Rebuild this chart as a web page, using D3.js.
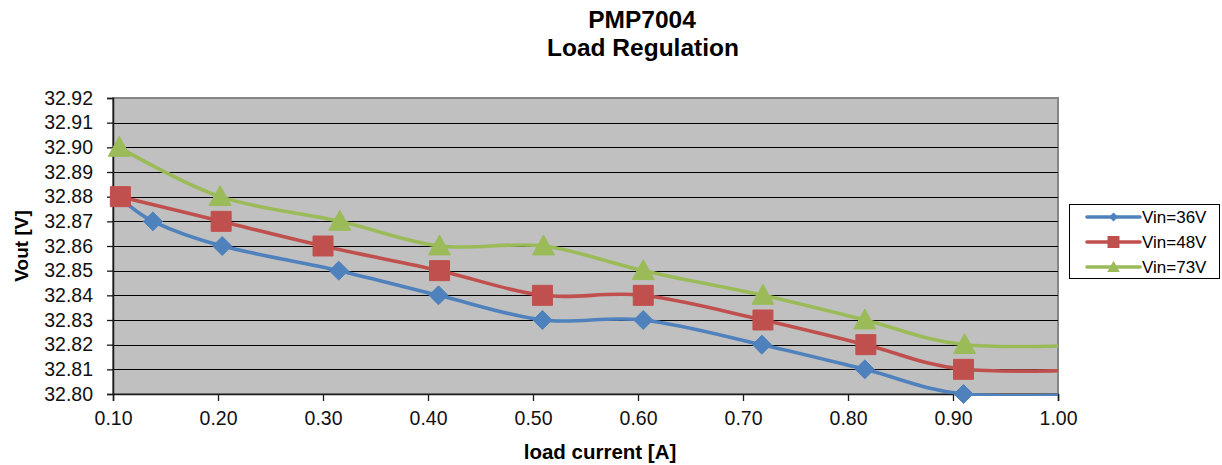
<!DOCTYPE html>
<html>
<head>
<meta charset="utf-8">
<script src="https://cdn.jsdelivr.net/npm/d3@7"></script>
<style>
  html, body { margin: 0; padding: 0; background: #fff; }
  svg { display: block; font-family: Arial, "Liberation Sans", sans-serif; }
</style>
</head>
<body>
<svg id="chart" width="1222" height="465"></svg>
<script>
// Load regulation measurements: output voltage vs. load current for three input voltages
const seriesNames = ["Vin=36V", "Vin=48V", "Vin=73V"];
const loadCurrent36 = [0.106, 0.138, 0.204, 0.315, 0.410, 0.509, 0.605, 0.718, 0.816, 0.910, 1.05];
const vout36        = [32.88, 32.87, 32.86, 32.85, 32.84, 32.83, 32.83, 32.82, 32.81, 32.80, 32.80];
const loadCurrent48 = [0.107, 0.203, 0.300, 0.411, 0.509, 0.605, 0.719, 0.817, 0.910, 1.05];
const vout48        = [32.88, 32.87, 32.86, 32.85, 32.84, 32.84, 32.83, 32.82, 32.81, 32.81];
const loadCurrent73 = [0.106, 0.202, 0.316, 0.411, 0.510, 0.605, 0.719, 0.816, 0.911, 1.05];
const vout73        = [32.90, 32.88, 32.87, 32.86, 32.86, 32.85, 32.84, 32.83, 32.82, 32.82];
const xTicks = [0.10, 0.20, 0.30, 0.40, 0.50, 0.60, 0.70, 0.80, 0.90, 1.00];
const yTicks = [32.80, 32.81, 32.82, 32.83, 32.84, 32.85, 32.86, 32.87, 32.88, 32.89, 32.90, 32.91, 32.92];
const colors = ["#4F81BD", "#C0504D", "#9BBB59"];
const markers = ["diamond", "square", "triangle"];

const series = [
  { name: seriesNames[0], xs: loadCurrent36, ys: vout36, color: colors[0], marker: markers[0] },
  { name: seriesNames[1], xs: loadCurrent48, ys: vout48, color: colors[1], marker: markers[1] },
  { name: seriesNames[2], xs: loadCurrent73, ys: vout73, color: colors[2], marker: markers[2] }
];

const svg = d3.select("#chart");
const plot = { left: 113, right: 1058, top: 98, bottom: 394 };

const x = d3.scaleLinear().domain([0.10, 1.00]).range([plot.left, plot.right]);
const y = d3.scaleLinear().domain([32.80, 32.92]).range([plot.bottom, plot.top]);

// Title
const title = svg.append("text")
  .attr("x", 642).attr("text-anchor", "middle")
  .style("font-weight", "bold").style("font-size", "24.5px").attr("fill", "#000");
title.append("tspan").attr("x", 642).attr("y", 28).text("PMP7004");
title.append("tspan").attr("x", 643).attr("y", 56).text("Load Regulation");

// Plot background
svg.append("rect")
  .attr("x", plot.left).attr("y", plot.top)
  .attr("width", plot.right - plot.left).attr("height", plot.bottom - plot.top)
  .attr("fill", "#C0C0C0").attr("stroke", "#868686").attr("stroke-width", 2);

// Horizontal gridlines
svg.append("g").selectAll("line")
  .data(yTicks.filter(v => v > 32.80 && v < 32.92))
  .join("line")
  .attr("x1", plot.left).attr("x2", plot.right)
  .attr("y1", d => Math.round(y(d)) + 0.5).attr("y2", d => Math.round(y(d)) + 0.5)
  .attr("stroke", "#000").attr("stroke-width", 1.2);

// Axes
const yAxis = d3.axisLeft(y).tickValues(yTicks).tickFormat(d3.format(".2f")).tickSize(6).tickPadding(14);
const xAxis = d3.axisBottom(x).tickValues(xTicks).tickFormat(d3.format(".2f")).tickSize(7).tickPadding(10);

const gy = svg.append("g").attr("transform", `translate(${plot.left},0)`).call(yAxis);
const gx = svg.append("g").attr("transform", `translate(0,${plot.bottom})`).call(xAxis);
[gx, gy].forEach(g => {
  g.select(".domain").attr("stroke", "#1a1a1a").attr("stroke-width", 1.5);
  g.selectAll(".tick line").attr("stroke", "#1a1a1a").attr("stroke-width", 1.3);
  g.selectAll(".tick text").attr("fill", "#111")
    .style("font-family", "Arial, 'Liberation Sans', sans-serif").style("font-size", "19.5px");
});

// Axis titles
svg.append("text")
  .attr("transform", `translate(28,${(plot.top + plot.bottom) / 2}) rotate(-90)`)
  .attr("text-anchor", "middle")
  .style("font-weight", "bold").style("font-size", "19px").text("Vout [V]");
svg.append("text")
  .attr("x", 600).attr("y", 459).attr("text-anchor", "middle")
  .style("font-weight", "bold").style("font-size", "20.5px").text("load current [A]");

// Clip path so smoothed lines stay within the plot area
svg.append("clipPath").attr("id", "plot-clip")
  .append("rect")
  .attr("x", plot.left).attr("y", plot.top - 2)
  .attr("width", plot.right - plot.left).attr("height", plot.bottom - plot.top + 4);

const line = d3.line()
  .x(d => x(d[0])).y(d => y(d[1]))
  .curve(d3.curveCatmullRom.alpha(0));

function markerPath(type, s) {
  if (type === "diamond") return `M0,${-s}L${s},0L0,${s}L${-s},0Z`;
  if (type === "square") return `M${-s},${-s}H${s}V${s}H${-s}Z`;
  return `M0,${-s * 1.05}L${s * 1.05},${s * 0.85}L${-s * 1.05},${s * 0.85}Z`;
}
const markerSize = { diamond: 9.5, square: 10, triangle: 10.5 };

series.forEach(s => {
  const pts = s.xs.map((v, i) => [v, s.ys[i]]);
  const g = svg.append("g");
  g.append("path")
    .attr("d", line(pts))
    .attr("clip-path", "url(#plot-clip)")
    .attr("fill", "none").attr("stroke", s.color)
    .attr("stroke-width", 3.6).attr("stroke-linejoin", "round").attr("stroke-linecap", "round");
  g.selectAll("path.mk")
    .data(pts.filter(p => p[0] >= 0.10 && p[0] <= 1.00))
    .join("path").attr("class", "mk")
    .attr("transform", p => `translate(${x(p[0])},${y(p[1])})`)
    .attr("d", markerPath(s.marker, markerSize[s.marker]))
    .attr("fill", s.color).attr("stroke", s.color).attr("stroke-width", 1);
});

// Legend
const legend = svg.append("g");
legend.append("rect")
  .attr("x", 1069.5).attr("y", 204.5).attr("width", 150).attr("height", 74)
  .attr("fill", "#fff").attr("stroke", "#000").attr("stroke-width", 1);
const legendSize = { diamond: 4.5, square: 6, triangle: 6 };
series.forEach((s, i) => {
  const cy = 217 + i * 25;
  legend.append("line")
    .attr("x1", 1087).attr("x2", 1140).attr("y1", cy).attr("y2", cy)
    .attr("stroke", s.color).attr("stroke-width", 3.6).attr("stroke-linecap", "round");
  legend.append("path")
    .attr("transform", `translate(1113.5,${cy})`)
    .attr("d", markerPath(s.marker, legendSize[s.marker]))
    .attr("fill", s.color);
  legend.append("text")
    .attr("x", 1142).attr("y", cy + 6)
    .style("font-size", "17px").text(s.name);
});
</script>
</body>
</html>
